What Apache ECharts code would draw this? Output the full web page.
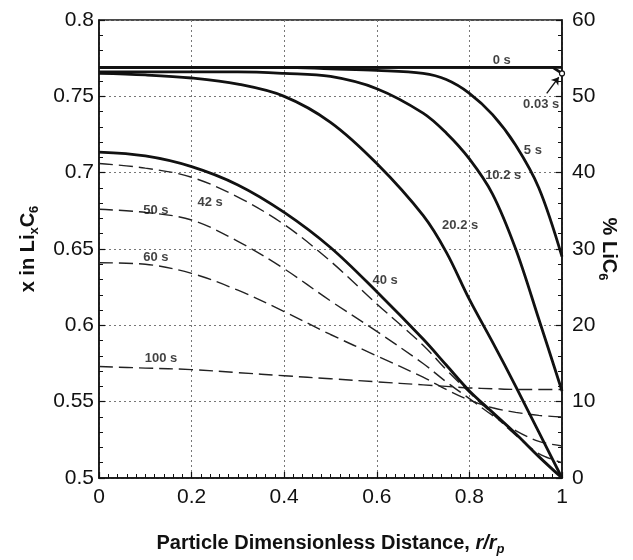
<!DOCTYPE html>
<html><head><meta charset="utf-8">
<script src="https://cdn.jsdelivr.net/npm/echarts@6/dist/echarts.min.js"></script>
<style>html,body{margin:0;padding:0;background:#fff}#c{width:633px;height:560px}</style>
</head><body><div id="c"></div>
<script>
// radial positions r/rp
const r = [0, 0.1, 0.2, 0.3, 0.4, 0.5, 0.6, 0.7, 0.75, 0.8, 0.85, 0.9, 0.95, 1];
// solid curves (x in LixC6)
const s0   = [0.769,0.769,0.769,0.769,0.769,0.769,0.769,0.769,0.769,0.769,0.769,0.769,0.769,0.769];
const r003 = [0, 0.98, 1];
const s003 = [0.769, 0.769, 0.765];
const s5   = [0.769,0.769,0.769,0.769,0.769,0.768,0.767,0.765,0.761,0.752,0.738,0.718,0.690,0.645];
const s10  = [0.766,0.766,0.766,0.766,0.765,0.763,0.755,0.739,0.726,0.709,0.686,0.650,0.604,0.557];
const s20  = [0.765,0.764,0.762,0.758,0.750,0.733,0.706,0.672,0.648,0.617,0.589,0.560,0.530,0.500];
const s40  = [0.7135,0.711,0.704,0.692,0.674,0.651,0.622,0.591,0.574,0.557,0.543,0.529,0.514,0.500];
// dashed curves
const s42  = [0.706,0.703,0.697,0.684,0.666,0.642,0.614,0.587,0.571,0.556,0.542,0.528,0.516,0.510];
const s50  = [0.676,0.674,0.669,0.655,0.637,0.616,0.596,0.575,0.563,0.552,0.541,0.531,0.524,0.521];
const s60  = [0.641,0.640,0.634,0.623,0.609,0.594,0.580,0.566,0.558,0.551,0.546,0.543,0.541,0.540];
const s100 = [0.573,0.572,0.571,0.569,0.567,0.565,0.563,0.561,0.560,0.559,0.5585,0.558,0.558,0.558];
// curve labels
const labelText = ['0 s','0.03 s','5 s','10.2 s','20.2 s','40 s','42 s','50 s','60 s','100 s'];
const labelR    = [0.870, 0.955, 0.937, 0.873, 0.780, 0.618, 0.240, 0.123, 0.123, 0.134];
const labelV    = [0.7738,0.745, 0.7148,0.6985,0.6657,0.6297,0.6808,0.6755,0.6448,0.5786];
// arrow for 0.03 s
const arrowR = [0.967, 0.993];
const arrowV = [0.752, 0.7625];
// axis ticks
const xTicks = [0, 0.2, 0.4, 0.6, 0.8, 1];
const yLeftTicks = [0.5, 0.55, 0.6, 0.65, 0.7, 0.75, 0.8];
const yRightTicks = [0, 10, 20, 30, 40, 50, 60];

const FONT = 'Liberation Sans, Arial, Helvetica, sans-serif';
const pair = (xs, ys) => xs.map((x, i) => [x, ys[i]]);

function solid(name, ys) {
  return { name, type: 'line', data: pair(r, ys), showSymbol: false, smooth: 0.35,
    lineStyle: { color: '#111', width: 2.8 }, z: 5 };
}
function dashed(name, ys) {
  return { name, type: 'line', data: pair(r, ys), showSymbol: false, smooth: 0.35,
    lineStyle: { color: '#222', width: 1.4, type: [14, 6] }, z: 4 };
}

const chart = echarts.init(document.getElementById('c'), null, { renderer: 'canvas' });
const axisCommon = {
  axisLine: { show: true, lineStyle: { color: '#111', width: 1.5 } },
  axisTick: { show: true, inside: true, length: 6, lineStyle: { color: '#111', width: 1.2 } },
  minorTick: { show: true, length: 4, lineStyle: { color: '#111', width: 1 } },
  axisLabel: { color: '#111', fontSize: 21, fontFamily: FONT },
};
const subStyle = { fontSize: 13, fontWeight: 'bold', fontFamily: FONT, verticalAlign: 'bottom', lineHeight: 15 };
chart.setOption({
  animation: false,
  backgroundColor: '#fff',
  grid: { left: 99, right: 71, top: 20, bottom: 82, outerBoundsMode: 'none', containLabel: false,
    show: true, borderColor: '#111', borderWidth: 1.5, backgroundColor: 'transparent' },
  xAxis: Object.assign({}, axisCommon, {
    type: 'value', min: xTicks[0], max: xTicks[xTicks.length - 1], interval: 0.2,
    minorTick: Object.assign({}, axisCommon.minorTick, { splitNumber: 10 }),
    axisLabel: Object.assign({}, axisCommon.axisLabel, { margin: 9 }),
    splitLine: { show: true, lineStyle: { color: '#777', width: 1, type: [2, 3] } },
    name: 'Particle Dimensionless Distance, {it|r/r}{sub|p}', nameLocation: 'middle', nameGap: 52,
    nameTextStyle: { color: '#111', fontSize: 20, fontWeight: 'bold', fontFamily: FONT, lineHeight: 26,
      rich: { it: { fontSize: 20, fontWeight: 'bold', fontStyle: 'italic', fontFamily: FONT, lineHeight: 26 },
              sub: Object.assign({}, subStyle, { fontStyle: 'italic' }) } }
  }),
  yAxis: [
    Object.assign({}, axisCommon, {
      type: 'value', min: yLeftTicks[0], max: yLeftTicks[yLeftTicks.length - 1], interval: 0.05,
      minorTick: Object.assign({}, axisCommon.minorTick, { splitNumber: 5 }),
      axisLabel: Object.assign({}, axisCommon.axisLabel, { margin: 5 }),
      splitLine: { show: true, lineStyle: { color: '#777', width: 1, type: [2, 3] } },
      name: 'x in Li{sub|x}C{sub|6}', nameLocation: 'middle', nameGap: 58, nameRotate: 90,
      nameTextStyle: { color: '#111', fontSize: 20, fontWeight: 'bold', fontFamily: FONT, lineHeight: 26,
        rich: { sub: subStyle } }
    }),
    Object.assign({}, axisCommon, {
      type: 'value', position: 'right', min: yRightTicks[0], max: yRightTicks[yRightTicks.length - 1], interval: 10,
      minorTick: Object.assign({}, axisCommon.minorTick, { splitNumber: 5 }),
      axisLabel: Object.assign({}, axisCommon.axisLabel, { margin: 10 }),
      splitLine: { show: false },
      name: '% LiC{sub|6}', nameLocation: 'middle', nameGap: 34, nameRotate: -90, nameMoveOverlap: false,
      nameTextStyle: { color: '#111', fontSize: 20, fontWeight: 'bold', fontFamily: FONT, lineHeight: 26,
        rich: { sub: subStyle } }
    })
  ],
  series: [
    solid('0 s', s0),
    {
      name: '0.03 s', type: 'line', showSymbol: true, z: 6,
      data: r003.map((x, i) => i === r003.length - 1
        ? { value: [x, s003[i]], symbol: 'circle', symbolSize: 5, itemStyle: { color: '#fff', borderColor: '#111', borderWidth: 1.2 } }
        : { value: [x, s003[i]], symbol: 'none' }),
      lineStyle: { color: '#111', width: 2.8 },
      markLine: {
        silent: true, symbol: ['none', 'arrow'], symbolSize: 7,
        label: { show: false },
        lineStyle: { color: '#111', width: 1.3, type: 'solid' },
        data: [[{ coord: [arrowR[0], arrowV[0]] }, { coord: [arrowR[1], arrowV[1]] }]]
      }
    },
    solid('5 s', s5),
    solid('10.2 s', s10),
    solid('20.2 s', s20),
    solid('40 s', s40),
    dashed('42 s', s42),
    dashed('50 s', s50),
    dashed('60 s', s60),
    dashed('100 s', s100),
    {
      name: 'labels', type: 'scatter', symbolSize: 1, z: 10,
      itemStyle: { color: 'rgba(0,0,0,0)' },
      data: labelText.map((t, i) => ({ name: t, value: [labelR[i], labelV[i]] })),
      label: { show: true, position: 'inside', formatter: '{b}', color: '#111', fontSize: 13, fontWeight: 'bold', fontFamily: FONT }
    }
  ]
});
</script></body></html>
